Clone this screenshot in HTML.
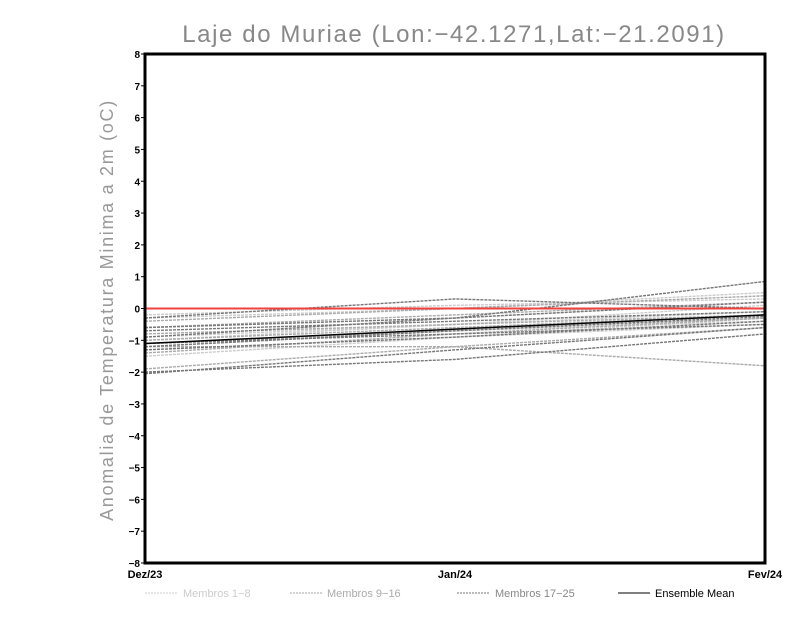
<!DOCTYPE html>
<html><head><meta charset="utf-8"><style>
body{margin:0;background:#fff}
svg text{font-family:"Liberation Sans",sans-serif}
</style></head><body>
<svg id="chart" width="800" height="618">
<text x="454" y="42" text-anchor="middle" font-size="24" fill="#888" letter-spacing="1.6">Laje do Muriae (Lon:−42.1271,Lat:−21.2091)</text>
<text transform="translate(113,310) rotate(-90)" text-anchor="middle" font-size="18" fill="#999" letter-spacing="1.7">Anomalia de Temperatura Minima a 2m (oC)</text>
<g id="marks"></g>
<rect x="145" y="54" width="620" height="509" fill="none" stroke="#000" stroke-width="3"/>
<g id="axes"></g>
<g>
<line x1="145" y1="593" x2="178" y2="593" stroke="#ccc" stroke-dasharray="2,1"/>
<text x="183" y="597" font-size="11" fill="#ccc">Membros 1−8</text>
<line x1="290" y1="593" x2="322" y2="593" stroke="#aaa" stroke-dasharray="2,1"/>
<text x="327" y="597" font-size="11" fill="#aaa">Membros 9−16</text>
<line x1="457" y1="593" x2="490" y2="593" stroke="#777" stroke-dasharray="2,1"/>
<text x="495" y="597" font-size="11" fill="#888">Membros 17−25</text>
<line x1="618" y1="593" x2="650" y2="593" stroke="#000"/>
<text x="655" y="597" font-size="11" fill="#000">Ensemble Mean</text>
</g>
</svg>
<script>
const categories=["Dez/23","Jan/24","Fev/24"];
const yTicks=[-8,-7,-6,-5,-4,-3,-2,-1,0,1,2,3,4,5,6,7,8];
const members1to8=[[-0.3,0.0,0.5],[-0.9,-0.5,0.1],[-1.5,-0.9,-0.3],[-1.2,-0.7,-0.4],[-0.6,-0.3,0.2],[-1.0,-0.5,-0.1],[-1.3,-0.9,-0.5],[-0.2,0.1,0.3]];
const members9to16=[[-0.6,-0.2,0.2],[-1.1,-0.7,-0.3],[-1.9,-1.2,-0.6],[-0.8,-0.5,-0.2],[-1.4,-0.8,-0.3],[-0.4,0.0,0.4],[-1.0,-0.6,-0.2],[-1.2,-1.2,-1.8]];
const members17to25=[[-2.0,-1.6,-0.8],[-0.6,-0.3,0.2],[-1.1,-0.8,-0.5],[-0.9,-0.3,0.85],[-1.3,-0.9,-0.4],[-2.05,-1.3,-0.6],[-0.7,-0.4,-0.1],[-1.2,-0.7,-0.25],[-0.3,0.3,0.0]];
const ensembleMean=[-1.1,-0.65,-0.2];
const observed=[0,0,0];
const X0=145,X1=765,Y0=563,Y1=54;
const xs=i=>X0+(X1-X0)*i/(categories.length-1);
const ys=v=>Y0+(Y1-Y0)*(v+8)/16;
const NS="http://www.w3.org/2000/svg";
const marks=document.getElementById('marks'),axes=document.getElementById('axes');
function line(arr,color,dash,w,name){
 const p=document.createElementNS(NS,'polyline');
 p.setAttribute('points',arr.map((v,i)=>xs(i)+','+ys(v)).join(' '));
 p.setAttribute('fill','none');p.setAttribute('stroke',color);p.setAttribute('stroke-width',w);
 if(dash)p.setAttribute('stroke-dasharray',dash);
 
 
 marks.appendChild(p);
}
members1to8.forEach(m=>line(m,'#ccc','3,1',1.4,'member-line-1-8'));
members9to16.forEach(m=>line(m,'#aaa','3,1',1.4,'member-line-9-16'));
members17to25.forEach(m=>line(m,'#777','3,1',1.4,'member-line-17-25'));
line(observed,'#f04040','',2,'observed-line');
line(ensembleMean,'#000','',1.5,'ensemble-mean-line');
yTicks.forEach(v=>{
 const t=document.createElementNS(NS,'text');
 t.setAttribute('x',140);t.setAttribute('y',ys(v)+4);t.setAttribute('text-anchor','end');
 t.setAttribute('font-size','10');t.setAttribute('font-weight','bold');
 t.textContent=v<0?'−'+(-v):String(v);
 
 
 axes.appendChild(t);
 const l=document.createElementNS(NS,'line');
 l.setAttribute('x1',141);l.setAttribute('x2',145);l.setAttribute('y1',ys(v));l.setAttribute('y2',ys(v));l.setAttribute('stroke','#000');
 
 
 axes.appendChild(l);
});
categories.forEach((c,i)=>{
 const t=document.createElementNS(NS,'text');
 t.setAttribute('x',xs(i));t.setAttribute('y',578);t.setAttribute('text-anchor','middle');
 t.setAttribute('font-size','11');t.setAttribute('font-weight','bold');
 t.textContent=c;
 
 
 axes.appendChild(t);
});
</script>
</body></html>
